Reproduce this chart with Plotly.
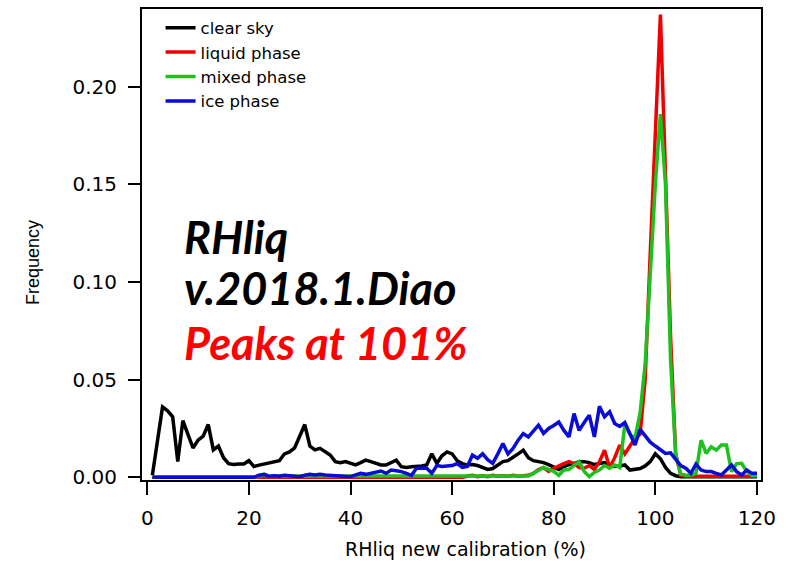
import plotly.graph_objects as go

rh = list(range(1, 121))

clear_sky = [
    0.001, 0.018, 0.036, 0.034, 0.031, 0.008, 0.029, 0.022, 0.015, 0.019,
    0.021, 0.027, 0.014, 0.016, 0.010, 0.007, 0.0065, 0.0068, 0.0068, 0.0085,
    0.0055, 0.0062, 0.0068, 0.0072, 0.0078, 0.0085, 0.012, 0.013, 0.015, 0.021,
    0.027, 0.016, 0.014, 0.0148, 0.013, 0.0114, 0.008, 0.0075, 0.008, 0.0072,
    0.0063, 0.0075, 0.0088, 0.008, 0.007, 0.0063, 0.0063, 0.0075, 0.0088, 0.0054,
    0.005, 0.0054, 0.0054, 0.0058, 0.0063, 0.012, 0.0071, 0.011, 0.013, 0.012,
    0.0085, 0.007, 0.0063, 0.0065, 0.006, 0.005, 0.004, 0.0045, 0.006, 0.008,
    0.0085, 0.010, 0.012, 0.0139, 0.010, 0.0085, 0.008, 0.0075, 0.0065, 0.005,
    0.004, 0.0055, 0.0065, 0.007, 0.008, 0.008, 0.0075, 0.0065, 0.007, 0.0075,
    0.006, 0.0055, 0.0058, 0.0063, 0.0037, 0.004, 0.0045, 0.0058, 0.008, 0.012,
    0.0095, 0.005, 0.002, 0.0008, 0.0003, 0.0003, 0.0003, 0.0003, 0.0003, 0.0003,
    0.0003, 0.0003, 0.0003, 0.0003, 0.0003, 0.0003, 0.0003, 0.0003, 0.0003, 0.0003,
]

liquid_phase = [0.0] * 62 + [
    0.0005, 0.001, 0.0003, 0.0008, 0.0003, 0.001, 0.0005, 0.0008,              # 63-70
    0.0005, 0.001, 0.0005, 0.0008, 0.001, 0.002, 0.004, 0.005, 0.003, 0.0046,  # 71-80
    0.006, 0.007, 0.008, 0.007, 0.005, 0.0046, 0.006, 0.004, 0.008, 0.0139,    # 81-90
    0.005, 0.010, 0.0165, 0.012, 0.016, 0.02, 0.022, 0.05, 0.115, 0.18,        # 91-100
    0.237, 0.155, 0.072, 0.012, 0.001, 0.0005, 0.0005, 0.0005, 0.0005, 0.0005, # 101-110
    0.0005, 0.0005, 0.0005, 0.0005, 0.0005, 0.0005, 0.0005, 0.0005, 0.0005, 0.0005,
]

mixed_phase = [0.0] * 21 + [
    0.0005, 0.0015, 0.0005, 0.0007, 0.0007, 0.0007, 0.0007, 0.0007, 0.0007,   # 22-30
    0.0007, 0.0007, 0.0007, 0.0007, 0.0007, 0.0007, 0.0007, 0.0007, 0.0007, 0.0007,
    0.0007, 0.0007, 0.0007, 0.0007, 0.0007, 0.0007, 0.0007, 0.0007, 0.0007, 0.0007,
    0.0007, 0.0007, 0.0007, 0.0007, 0.0007, 0.0007, 0.0007, 0.0007, 0.0007, 0.0007,
    0.0007, 0.0007, 0.0007, 0.0007, 0.0007, 0.0007, 0.0007, 0.0007, 0.0007, 0.0007,
    0.0007, 0.0007, 0.0007, 0.0007, 0.0007, 0.002, 0.0037, 0.005, 0.004, 0.003,  # 71-80
    0.001, 0.0037, 0.004, 0.006, 0.008, 0.003, 0.0003, 0.0025, 0.0037, 0.006,    # 81-90
    0.0046, 0.0063, 0.005, 0.027, 0.022, 0.02, 0.033, 0.058, 0.104, 0.15,        # 91-100
    0.186, 0.15, 0.06, 0.012, 0.0015, 0.001, 0.001, 0.002, 0.019, 0.0122,        # 101-110
    0.0156, 0.0139, 0.0165, 0.0165, 0.0029, 0.007, 0.0071, 0.0029, 0.001, 0.001,
]

ice_phase = [0.0] * 21 + [
    0.001, 0.0015, 0.0005, 0.0008, 0.0005, 0.001, 0.0008, 0.0005, 0.0003,       # 22-30
    0.001, 0.0015, 0.0012, 0.0015, 0.0012, 0.001, 0.0012, 0.001, 0.0008, 0.0003,
    0.0012, 0.002, 0.0015, 0.002, 0.0025, 0.0032, 0.002, 0.0037, 0.0033, 0.0029,
    0.002, 0.001, 0.0046, 0.0045, 0.0046, 0.002, 0.006, 0.0055, 0.0058, 0.006,
    0.007, 0.005, 0.0055, 0.0114, 0.0097, 0.012, 0.009, 0.0071, 0.012, 0.0173,
    0.012, 0.0148, 0.019, 0.0224, 0.0207, 0.024, 0.0267, 0.0224, 0.025, 0.0265,
    0.0283, 0.024, 0.0207, 0.0326, 0.024, 0.028, 0.0318, 0.0207, 0.0363, 0.031,
    0.0335, 0.0275, 0.026, 0.028, 0.022, 0.0165, 0.0245, 0.021, 0.018, 0.016,
    0.0139, 0.0122, 0.0125, 0.009, 0.006, 0.0046, 0.002, 0.0068, 0.0037, 0.0029,
    0.0029, 0.002, 0.0012, 0.0037, 0.0063, 0.0029, 0.0012, 0.0037, 0.002, 0.002,
]

series_names = ["clear sky", "liquid phase", "mixed phase", "ice phase"]
series_values = [clear_sky, liquid_phase, mixed_phase, ice_phase]
series_colors = ["#000000", "#f00000", "#1dc11d", "#0b0bd6"]

x_ticks = [0, 20, 40, 60, 80, 100, 120]
y_ticks = [0.00, 0.05, 0.10, 0.15, 0.20]
y_tick_labels = ["0.00", "0.05", "0.10", "0.15", "0.20"]

x_title = "RHliq new calibration (%)"
y_title = "Frequency"

annotation_lines = [
    ("RHliq", "#000000"),
    ("v.2018.1.Diao", "#000000"),
    ("Peaks at 101%", "#ff0000"),
]

fig = go.Figure()
for name, vals, col in zip(series_names, series_values, series_colors):
    fig.add_trace(go.Scatter(x=rh, y=vals, mode="lines", name=name,
                             line=dict(color=col, width=3.5)))

tick_font = dict(family="DejaVu Sans", size=20, color="#000000")

fig.update_layout(
    width=805, height=564,
    margin=dict(l=142, r=44, t=7, b=84),
    paper_bgcolor="white", plot_bgcolor="white",
    showlegend=True,
    legend=dict(x=0.03, y=0.997, xanchor="left", yanchor="top",
                bgcolor="rgba(0,0,0,0)", font=dict(family="DejaVu Sans", size=16.5, color="#000"),
                tracegroupgap=0, itemwidth=30),
    xaxis=dict(range=[-1.04, 120.8], tickvals=x_ticks, ticks="outside", ticklen=13,
               tickwidth=2, tickcolor="#000", showline=True, linewidth=2, linecolor="#000",
               mirror=True, showgrid=False, zeroline=False, tickfont=tick_font,
               ticklabelstandoff=6),
    yaxis=dict(range=[-0.0014, 0.2398], tickvals=y_ticks, ticktext=y_tick_labels,
               ticks="outside", ticklen=12, tickwidth=2, tickcolor="#000",
               showline=True, linewidth=2, linecolor="#000", mirror=True,
               showgrid=False, zeroline=False, tickfont=tick_font, ticklabelstandoff=7),
)

# axis titles (placed as in the reference, slightly off-centre)
fig.add_annotation(xref="paper", yref="paper", x=0.522, y=-0.146, xanchor="center",
                   yanchor="middle", showarrow=False, text=x_title,
                   font=dict(family="DejaVu Sans", size=19, color="#000"))
fig.add_annotation(xref="paper", yref="paper", x=-0.176, y=0.461, xanchor="center",
                   yanchor="middle", showarrow=False, text=y_title, textangle=-90,
                   font=dict(family="Liberation Sans", size=18, color="#000"))

ys = [0.516, 0.408, 0.2915]
for (txt, col), yy in zip(annotation_lines, ys):
    fig.add_annotation(xref="paper", yref="paper", x=0.064, y=yy, xanchor="left",
                       yanchor="middle", showarrow=False, text=f"<b><i>{txt}</i></b>",
                       font=dict(family="Lato", size=45, color=col))

fig.write_html("out.html")
